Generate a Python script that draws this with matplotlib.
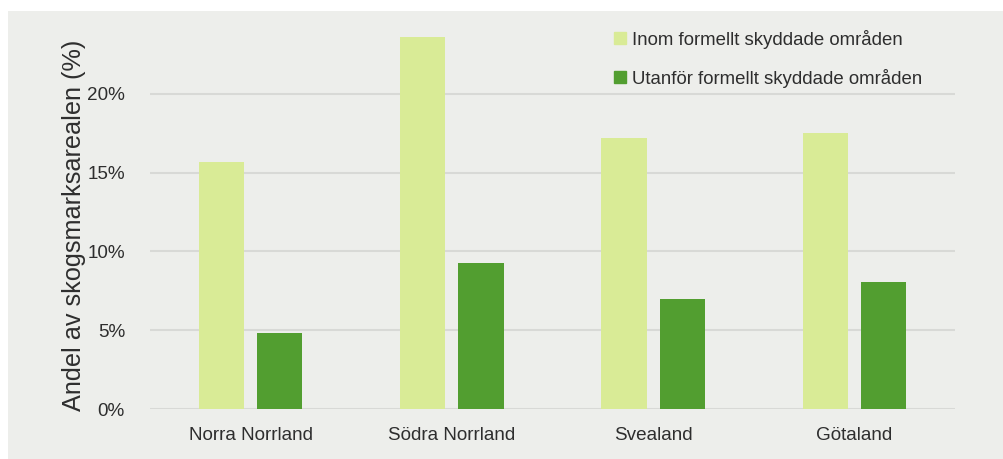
"""Andel av skogsmarksarealen inom / utanför formellt skyddade områden, per landsdel."""

import matplotlib

matplotlib.use("Agg")

import matplotlib.pyplot as plt  # noqa: E402
import numpy as np  # noqa: E402
from matplotlib.patches import Patch, Rectangle  # noqa: E402

REGIONS = ["Norra Norrland", "Södra Norrland", "Svealand", "Götaland"]
INOM = [15.7, 23.6, 17.2, 17.5]
UTANFOR = [4.8, 9.25, 7.0, 8.05]
LABEL_INOM = "Inom formellt skyddade områden"
LABEL_UTANFOR = "Utanför formellt skyddade områden"
YTICKS = [0, 5, 10, 15, 20]

BG = "#edeeeb"
LIGHT = "#d9eb96"
DARK = "#529e30"
GRID = "#d8d9d6"
TXT = "#2e2e2e"

plt.rcParams["font.family"] = ["Liberation Sans", "DejaVu Sans"]

fig = plt.figure(figsize=(10.04, 4.59), dpi=100, facecolor="white")
# grey panel behind the chart, small white margin top/left
fig.patches.append(
    Rectangle((8 / 1004, 0), 1 - 8 / 1004, 1 - 11 / 459,
              transform=fig.transFigure, facecolor=BG, edgecolor="none", zorder=-5)
)

ax = fig.add_axes((150 / 1004, 50 / 459, 805 / 1004, 394 / 459))
ax.set_facecolor("none")

x = np.arange(len(REGIONS))
w = 0.225
ax.bar(x - 0.145, INOM, w, color=LIGHT, zorder=3)
ax.bar(x + 0.145, UTANFOR, w, color=DARK, zorder=3)

ax.set_xlim(-0.5, len(REGIONS) - 0.5)
ax.set_ylim(0, 25)
ax.set_yticks(YTICKS)
ax.set_yticklabels([f"{t}%" for t in YTICKS])
ax.set_xticks(x)
ax.set_xticklabels(REGIONS)
ax.tick_params(axis="both", length=0, labelsize=13.6, colors=TXT)
ax.tick_params(axis="x", pad=13)
ax.tick_params(axis="y", pad=18)
ax.yaxis.grid(True, color=GRID, lw=1.5, zorder=1)
for s in ax.spines.values():
    s.set_visible(False)

ax.set_ylabel("Andel av skogsmarksarealen (%)", fontsize=18.2, color=TXT)
ax.yaxis.set_label_coords(-0.079, 0.467)

handles = [Patch(color=LIGHT, label=LABEL_INOM), Patch(color=DARK, label=LABEL_UTANFOR)]
leg = fig.legend(
    handles=handles,
    loc="upper left",
    bbox_to_anchor=(614 / 1004, 1 - 30 / 459),
    frameon=False,
    fontsize=13.4,
    handlelength=0.62,
    handleheight=0.62,
    handletextpad=0.35,
    labelspacing=1.05,
    borderaxespad=0,
    borderpad=0,
)
for t in leg.get_texts():
    t.set_color(TXT)

fig.savefig("out.png", dpi=100, facecolor="white")
